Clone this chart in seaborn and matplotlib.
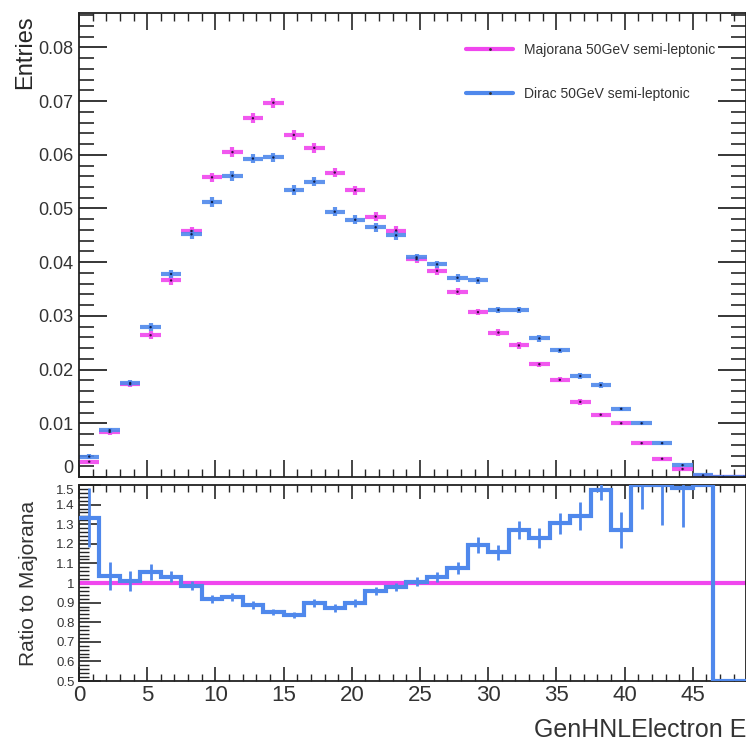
import numpy as np
import pandas as pd
import matplotlib
matplotlib.use("Agg")
import matplotlib.pyplot as plt
from matplotlib.ticker import MultipleLocator
from matplotlib.lines import Line2D
from matplotlib.patches import Rectangle
import seaborn as sns

sns.set_style("white")
plt.rcParams["font.family"] = ["Liberation Sans", "DejaVu Sans"]

# Binning of the electron energy (GeV), 1.5 GeV wide bins
bin_edges = np.arange(0, 49.5 + 0.01, 1.5)
bin_centers = 0.5 * (bin_edges[:-1] + bin_edges[1:])

# Normalised entries per bin
majorana = [0.00285, 0.0084, 0.0173, 0.0264, 0.0366, 0.0458, 0.0558, 0.0605,
            0.0668, 0.0697, 0.0637, 0.0613, 0.0567, 0.0534, 0.0485, 0.0459,
            0.0406, 0.0384, 0.0345, 0.0307, 0.0269, 0.0245, 0.0210, 0.0181,
            0.0140, 0.0116, 0.0100, 0.0063, 0.0034, 0.00148, 0.0001, 0.0, 0.0]
dirac = [0.0038, 0.0087, 0.0175, 0.0279, 0.0378, 0.0452, 0.0512, 0.0561,
         0.0593, 0.0595, 0.0534, 0.0550, 0.0494, 0.0479, 0.0465, 0.0450,
         0.0409, 0.0396, 0.0371, 0.0366, 0.0311, 0.0311, 0.0258, 0.0236,
         0.0188, 0.0171, 0.0127, 0.0100, 0.0063, 0.0022, 0.0003, 0.0, 0.0]
majorana_err = [0.0003, 0.0005, 0.0006, 0.0007, 0.0008, 0.0008, 0.0009, 0.0009,
                0.0009, 0.0009, 0.0009, 0.0009, 0.0008, 0.0008, 0.0008, 0.0008,
                0.0007, 0.0007, 0.0007, 0.0006, 0.0006, 0.0006, 0.0005, 0.0005,
                0.0005, 0.0004, 0.0004, 0.0003, 0.0002, 0.0002, 0.0001, 0.0, 0.0]
dirac_err = [0.0004, 0.0005, 0.0006, 0.0007, 0.0008, 0.0008, 0.0009, 0.0009,
             0.0009, 0.0009, 0.0009, 0.0009, 0.0008, 0.0008, 0.0008, 0.0008,
             0.0007, 0.0007, 0.0007, 0.0007, 0.0006, 0.0006, 0.0006, 0.0005,
             0.0005, 0.0005, 0.0004, 0.0004, 0.0003, 0.0002, 0.0001, 0.0, 0.0]
# Uncertainty on the Dirac / Majorana ratio
ratio_err = [0.15, 0.07, 0.05, 0.04, 0.03, 0.025, 0.02, 0.02,
             0.02, 0.015, 0.015, 0.02, 0.02, 0.02, 0.02, 0.02,
             0.025, 0.025, 0.03, 0.04, 0.04, 0.045, 0.05, 0.055,
             0.07, 0.05, 0.09, 0.12, 0.2, 0.2, 0.0, 0.0, 0.0]

labels = ["Majorana 50GeV semi-leptonic", "Dirac 50GeV semi-leptonic"]
c_maj = "#f046ee"
c_dir = "#4f88ec"

maj = np.array(majorana)
dir_ = np.array(dirac)
ratio = np.divide(dir_, maj, out=np.zeros_like(dir_), where=maj > 0)

df = pd.DataFrame({
    "E": np.concatenate([bin_centers, bin_centers]),
    "entries": np.concatenate([maj, dir_]),
    "sample": [labels[0]] * len(maj) + [labels[1]] * len(dir_),
})

W, H = 746, 747
fig = plt.figure(figsize=(W / 100, H / 100), dpi=100)
x0, x1 = 79 / W, 1.0
ax = fig.add_axes([x0, 1 - 477 / H, x1 - x0, (477 - 13) / H])
axr = fig.add_axes([x0, 1 - 681 / H, x1 - x0, (681 - 485) / H])
ax.set_zorder(1)
axr.set_zorder(3)
# lower pad background hides the part of the upper pad that runs below it
fig.add_artist(Rectangle((0, 0), 1, 1 - 482 / H, transform=fig.transFigure,
                         facecolor="white", edgecolor="none", zorder=2))

xmax = 48.9
lw = 3.0

# ---- upper panel: normalised distributions ----
for name, vals, errs, col in [(labels[0], maj, majorana_err, c_maj),
                              (labels[1], dir_, dirac_err, c_dir)]:
    ax.errorbar(bin_centers, vals, xerr=0.75, yerr=errs, fmt="none",
                ecolor=col, elinewidth=lw, capsize=0, alpha=0.9)
sns.scatterplot(data=df, x="E", y="entries", hue="sample",
                palette=["#3a1040", "#10204a"], s=3, linewidth=0,
                legend=False, ax=ax, zorder=5)

ax.set_xlim(0, xmax)
ax.set_ylim(0, 0.0864)
ax.set_xlabel("")
ax.set_ylabel("Entries", fontsize=17, loc="top")
ax.yaxis.set_label_coords(-0.064, 0.995)
ax.xaxis.set_major_locator(MultipleLocator(5))
ax.xaxis.set_minor_locator(MultipleLocator(1))
ax.set_yticks(np.arange(0, 0.081, 0.01))
ax.set_yticklabels(["0"] + [f"{v:.2f}" for v in np.arange(0.01, 0.081, 0.01)])
ax.yaxis.set_minor_locator(MultipleLocator(0.002))
ax.tick_params(axis="y", which="major", direction="in", length=20, width=1.3,
               labelsize=13, left=True, right=True, pad=4, labelcolor="#333333")
ax.tick_params(axis="y", which="minor", direction="in", length=11, width=1.2,
               left=True, right=True)
ax.tick_params(axis="x", which="major", direction="in", length=12, width=1.2,
               top=True, bottom=True, labelbottom=False)
ax.tick_params(axis="x", which="minor", direction="in", length=6, width=1.0,
               top=True, bottom=True)
ax.get_yticklabels()[0].set_verticalalignment("bottom")
for s in ax.spines.values():
    s.set_linewidth(1.3)
    s.set_color("#222222")

handles = [Line2D([], [], color=c_maj, lw=lw, marker=".", ms=2,
                  markerfacecolor="#333333", markeredgecolor="#333333"),
           Line2D([], [], color=c_dir, lw=lw, marker=".", ms=2,
                  markerfacecolor="#333333", markeredgecolor="#333333")]
ax.legend(handles, labels, loc="upper right", bbox_to_anchor=(0.968, 0.957),
          frameon=False, fontsize=10, handlelength=3.4, labelspacing=2.15,
          handletextpad=0.75, labelcolor="#333333", borderpad=0.2)

# ---- lower panel: ratio to Majorana ----
lo, hi = 0.5, 1.5
axr.axhline(1.0, color=c_maj, lw=lw, zorder=2)
shown = np.clip(ratio, lo + 0.002, hi - 0.002)
axr.stairs(shown, bin_edges, color=c_dir, lw=lw, baseline=None, zorder=3)
axr.errorbar(bin_centers, shown, yerr=ratio_err, fmt="none", ecolor=c_dir,
             elinewidth=2.0, capsize=0, zorder=3)

axr.set_xlim(0, xmax)
axr.set_ylim(lo, hi)
axr.set_ylabel("Ratio to Majorana", fontsize=15, color="#333333")
axr.yaxis.set_label_coords(-0.062, 0.5)
axr.set_xlabel("GenHNLElectron E", fontsize=18, loc="right", color="#333333")
axr.xaxis.set_label_coords(1.0, -0.19)
axr.xaxis.set_major_locator(MultipleLocator(5))
axr.xaxis.set_minor_locator(MultipleLocator(1))
axr.set_yticks(np.round(np.arange(0.5, 1.51, 0.1), 1))
axr.set_yticklabels(["0.5", "0.6", "0.7", "0.8", "0.9", "1", "1.1", "1.2",
                     "1.3", "1.4", "1.5"])
axr.yaxis.set_minor_locator(MultipleLocator(0.02))
axr.tick_params(axis="y", which="major", direction="in", length=16, width=1.2,
                labelsize=9.5, left=True, right=False, pad=3, labelcolor="#333333")
axr.tick_params(axis="y", which="minor", direction="in", length=7, width=1.0,
                left=True)
axr.tick_params(axis="x", which="major", direction="in", length=10, width=1.2,
                top=True, bottom=True, labelsize=16, pad=3, labelcolor="#333333")
axr.tick_params(axis="x", which="minor", direction="in", length=5, width=1.0,
                top=True, bottom=True)
axr.get_yticklabels()[-1].set_verticalalignment("top")
for s in axr.spines.values():
    s.set_linewidth(1.3)
    s.set_color("#222222")

fig.savefig("out.png", dpi=100)
